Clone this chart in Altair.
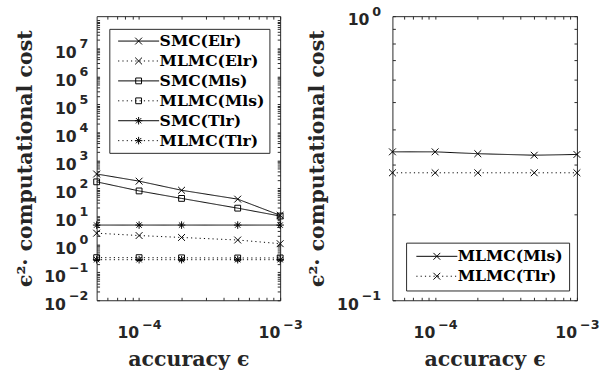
import json
import altair as alt
import pandas as pd

# accuracy levels
eps = [5e-5, 1e-4, 2e-4, 5e-4, 1e-3]

# eps^2 * computational cost for each estimator / model
smc_elr = [324, 180, 85, 41, 10.8]
mlmc_elr = [2.49, 2.05, 1.75, 1.42, 1.05]
smc_mls = [170, 80.5, 43.5, 19.5, 10.2]
mlmc_mls = [0.333, 0.333, 0.328, 0.324, 0.326]
smc_tlr = [4.85, 4.85, 4.85, 4.85, 4.85]
mlmc_tlr = [0.281, 0.281, 0.281, 0.281, 0.281]

left_names = ["SMC(Elr)", "MLMC(Elr)", "SMC(Mls)", "MLMC(Mls)", "SMC(Tlr)", "MLMC(Tlr)"]
left_values = [smc_elr, mlmc_elr, smc_mls, mlmc_mls, smc_tlr, mlmc_tlr]
left_lines = ["solid", "dotted", "solid", "dotted", "solid", "dotted"]
left_markers = ["x", "x", "square", "square", "star", "star"]

right_names = ["MLMC(Mls)", "MLMC(Tlr)"]
right_values = [mlmc_mls, mlmc_tlr]
right_lines = ["solid", "dotted"]
right_markers = ["x", "x"]

# axis ticks; labels are written as 10 with a raised exponent
x_domain = [5e-5, 1e-3]
x_major = [1e-4, 1e-3]
x_exponents = ["\u22124", "\u22123"]
x_minor = [6e-5, 7e-5, 8e-5, 9e-5, 2e-4, 3e-4, 4e-4, 5e-4, 6e-4, 7e-4, 8e-4, 9e-4]

left_y_domain = [1e-2, 1.41e8]
left_y_major = [1e-2, 1e-1, 1e0, 1e1, 1e2, 1e3, 1e4, 1e5, 1e6, 1e7]
left_y_exponents = ["\u22122", "\u22121", "0", "1", "2", "3", "4", "5", "6", "7"]
left_y_extra = [1e8]
left_y_minor = [k * 10.0 ** d for d in range(-2, 8) for k in range(2, 10)]

right_y_domain = [0.1, 1.0]
right_y_major = [0.1, 1.0]
right_y_exponents = ["\u22121", "0"]
right_y_minor = [0.2, 0.3, 0.4, 0.5, 0.6, 0.7, 0.8, 0.9]

INK = "#262626"
SERIF = "DejaVu Serif"
SANS = "DejaVu Sans"

DASH = {"solid": [1, 0], "dotted": [1.2, 3.2]}

# marker outlines in the unit square
MARK = {
    "x": "M-1,-1L1,1M-1,1L1,-1",
    "square": "M-0.85,-0.85H0.85V0.85H-0.85Z",
    "star": "M-1.1,0H1.1M0,-1.1V1.1M-0.78,-0.78L0.78,0.78M-0.78,0.78L0.78,-0.78",
}


def legend_glyph(line, marker):
    """Line sample with the marker in its middle (marker centred at x=5)."""
    if line == "solid":
        path = "M-1,0H11"
    else:
        parts = []
        x = -1.0
        while x < 11:
            parts.append(f"M{x:.3f},0H{min(x + 0.34, 11):.3f}")
            x += 1.257
        path = "".join(parts)
    shifted = {
        "x": "M4,-1L6,1M4,1L6,-1",
        "square": "M4.15,-0.85H5.85V0.85H4.15Z",
        "star": "M3.9,0H6.1M5,-1.1V1.1M4.22,-0.78L5.78,0.78M4.22,0.78L5.78,-0.78",
    }[marker]
    return path + shifted


def base_expr(vals):
    return f"indexof({json.dumps(vals)}, datum.value) >= 0 ? '10' : ''"


def exp_expr(vals, exps):
    v = json.dumps(vals)
    e = json.dumps(exps, ensure_ascii=False)
    return f"indexof({v}, datum.value) >= 0 ? {e}[indexof({v}, datum.value)] : ''"


COMMON = dict(domain=False, grid=False, labelColor=INK, labelFont=SANS, labelFontWeight="bold",
              labelOverlap=False, labelFlush=False, labelBaseline="alphabetic",
              titleFont=SERIF, titleFontWeight="bold", titleFontSize=21, titleColor=INK)
TICKS = dict(tickColor=INK, tickSize=3, offset=-3, tickWidth=1)


def panel(names, values, lines, markers, y_domain, y_major, y_exps, y_all,
          legend_x, legend_y, legend_pad, pad, y_title_pad, w, h):
    rows = []
    for n, vals in zip(names, values):
        for e, c in zip(eps, vals):
            rows.append({"eps": e, "cost": c, "series": n})
    df = pd.DataFrame(rows)

    xs = alt.Scale(type="log", domain=x_domain, nice=False)
    ys = alt.Scale(type="log", domain=y_domain, nice=False)
    x_ticks = x_major + x_minor

    # "10" part of the labels, together with the inward ticks
    x_bottom = alt.Axis(orient="bottom", values=x_ticks, labelExpr=base_expr(x_major),
                        labelFontSize=16, labelAlign="center", labelOffset=-11.5, labelPadding=38,
                        title="accuracy ϵ", titlePadding=9, **COMMON, **TICKS)
    y_left = alt.Axis(orient="left", values=y_all, labelExpr=base_expr(y_major),
                      labelFontSize=16, labelOffset=9,
                      labelPadding={"condition": {"test": "datum.value < 1", "value": pad + 23},
                                    "value": pad + 12},
                      title="ϵ²· computational cost", titlePadding=y_title_pad, **COMMON, **TICKS)
    # mirrored ticks on the top and right edges
    x_top = alt.Axis(orient="top", values=x_ticks, labels=False, title=None, **COMMON, **TICKS)
    y_right = alt.Axis(orient="right", values=y_all, labels=False, title=None, **COMMON, **TICKS)
    # raised exponents
    x_exp = alt.Axis(orient="bottom", values=x_major, labelExpr=exp_expr(x_major, x_exponents),
                     labelFontSize=13, labelAlign="left", labelOffset=2.7, labelPadding=29,
                     ticks=False, title=None, **COMMON)
    y_exp = alt.Axis(orient="left", values=y_major, labelExpr=exp_expr(y_major, y_exps),
                     labelFontSize=13, labelOffset=-1, labelPadding=pad,
                     ticks=False, title=None, **COMMON)

    base = alt.Chart(df)
    line_layer = base.mark_line(color="black", strokeWidth=1).encode(
        x=alt.X("eps:Q", scale=xs, axis=x_bottom),
        y=alt.Y("cost:Q", scale=ys, axis=y_left),
        strokeDash=alt.StrokeDash("series:N", scale=alt.Scale(domain=names, range=[DASH[l] for l in lines]),
                                  legend=None),
        detail="series:N",
    )
    marker_layer = base.mark_point(color="black", filled=False, strokeWidth=1, size=49, opacity=1).encode(
        x=alt.X("eps:Q", scale=xs, axis=x_top),
        y=alt.Y("cost:Q", scale=ys, axis=y_right),
        shape=alt.Shape("series:N", scale=alt.Scale(domain=names, range=[MARK[m] for m in markers]),
                        legend=None),
    )
    key_layer = base.mark_point(color="black", filled=False, strokeWidth=1, size=49, opacity=0).encode(
        x=alt.X("eps:Q", scale=xs, axis=x_exp),
        y=alt.Y("cost:Q", scale=ys, axis=y_exp),
        shape=alt.Shape(
            "series:N",
            scale=alt.Scale(domain=names, range=[legend_glyph(l, m) for l, m in zip(lines, markers)]),
            legend=alt.Legend(title=None, orient="none", legendX=legend_x, legendY=legend_y,
                              strokeColor=INK, fillColor="white", padding=legend_pad, cornerRadius=0,
                              labelFont=SERIF, labelFontWeight="bold", labelFontSize=16,
                              labelColor="black", labelOffset=31, rowPadding=4.4,
                              symbolSize=49, symbolStrokeWidth=1, symbolStrokeColor="black",
                              symbolOpacity=1, symbolFillColor="transparent"),
        ),
    )
    return alt.layer(line_layer, marker_layer, key_layer).resolve_scale(
        shape="independent"
    ).resolve_axis(x="independent", y="independent").properties(width=w, height=h)


left = panel(left_names, left_values, left_lines, left_markers, left_y_domain,
             left_y_major, left_y_exponents, left_y_major + left_y_extra + left_y_minor,
             13, 13, 4.5, 9, 8, 188, 291)
right = panel(right_names, right_values, right_lines, right_markers, right_y_domain,
              right_y_major, right_y_exponents, right_y_major + right_y_minor,
              14, 232, 6, 12, 9, 189, 291)

# panels are placed by their plot areas; the gap between the two frames is fixed
chart = alt.hconcat(left, right, spacing=115, bounds="flush").resolve_scale(
    x="independent", y="independent", shape="independent", strokeDash="independent"
).configure_view(stroke=INK, strokeWidth=1).properties(
    padding={"left": 15, "top": 0, "right": 0, "bottom": 0}, background="white"
)

chart.save("out.html", embed_options={"renderer": "svg", "actions": False})
